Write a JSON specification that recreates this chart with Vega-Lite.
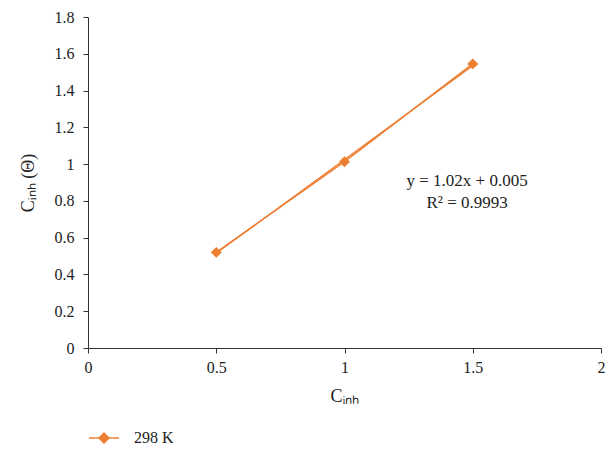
{
  "$schema": "https://vega.github.io/schema/vega-lite/v6.json",
  "width": 513,
  "height": 331,
  "autosize": "none",
  "padding": {"left": 88, "top": 17, "right": 10, "bottom": 101},
  "background": "white",
  "config": {
    "font": "Liberation Serif",
    "view": {"stroke": null},
    "axis": {
      "grid": false,
      "domainColor": "#333333",
      "tickColor": "#333333",
      "labelColor": "#222222",
      "titleColor": "#222222",
      "labelFont": "Liberation Serif",
      "titleFont": "Liberation Serif",
      "labelFontSize": 16,
      "titleFontSize": 18,
      "titleFontWeight": "normal",
      "tickSize": 5,
      "labelOverlap": false,
      "format": "~g"
    }
  },
  "datasets": {
    "obs": [
      {"c": 0.5, "theta": 0.52, "series": "298 K"},
      {"c": 1.0, "theta": 1.013, "series": "298 K"},
      {"c": 1.5, "theta": 1.545, "series": "298 K"}
    ],
    "trend": [
      {"c": 0.5, "theta": 0.515},
      {"c": 1.5, "theta": 1.535}
    ]
  },
  "layer": [
    {
      "data": {"name": "trend"},
      "mark": {"type": "line", "color": "#ED7D31", "strokeWidth": 1.3},
      "encoding": {
        "x": {
          "field": "c", "type": "quantitative",
          "scale": {"domain": [0, 2], "nice": false},
          "axis": {"values": [0, 0.5, 1, 1.5, 2], "title": "Cᵢₙₕ", "labelPadding": 6, "titlePadding": 12, "labelFlush": false, "labelOverlap": false, "format": "~g"}
        },
        "y": {
          "field": "theta", "type": "quantitative",
          "scale": {"domain": [0, 1.8], "nice": false},
          "axis": {"values": [0, 0.2, 0.4, 0.6, 0.8, 1, 1.2, 1.4, 1.6, 1.8], "tickCount": 10, "title": "Cᵢₙₕ (Θ)", "labelPadding": 9, "titlePadding": 17, "labelFlush": false, "labelOverlap": false, "format": "~g"}
        }
      }
    },
    {
      "data": {"name": "obs"},
      "mark": {"type": "line", "strokeWidth": 1.5},
      "encoding": {
        "x": {"field": "c", "type": "quantitative"},
        "y": {"field": "theta", "type": "quantitative"},
        "color": {
          "field": "series", "type": "nominal",
          "scale": {"domain": ["298 K"], "range": ["#ED7D31"]},
          "legend": {
            "title": null,
            "orient": "none",
            "legendX": 0,
            "legendY": 405,
            "symbolType": "M-1,0H1M-0.33,0L0,-0.33L0.33,0L0,0.33Z",
            "symbolSize": 900,
            "symbolFillColor": "#ED7D31",
            "symbolStrokeColor": "#ED7D31",
            "symbolStrokeWidth": 1.5,
            "labelFont": "Liberation Serif",
            "labelFontSize": 16,
            "labelColor": "#222222",
            "labelOffset": 14
          }
        }
      }
    },
    {
      "data": {"name": "obs"},
      "mark": {"type": "point", "shape": "diamond", "filled": true, "size": 120, "opacity": 1},
      "encoding": {
        "x": {"field": "c", "type": "quantitative"},
        "y": {"field": "theta", "type": "quantitative"},
        "color": {"field": "series", "type": "nominal", "legend": null}
      }
    },
    {
      "data": {"values": [{}]},
      "mark": {"type": "text", "text": "y = 1.02x + 0.005", "font": "Liberation Serif", "fontSize": 17, "color": "#222222"},
      "encoding": {
        "x": {"datum": 1.478},
        "y": {"datum": 0.91}
      }
    },
    {
      "data": {"values": [{}]},
      "mark": {"type": "text", "text": "R² = 0.9993", "font": "Liberation Serif", "fontSize": 17, "color": "#222222"},
      "encoding": {
        "x": {"datum": 1.478},
        "y": {"datum": 0.79}
      }
    }
  ]
}
